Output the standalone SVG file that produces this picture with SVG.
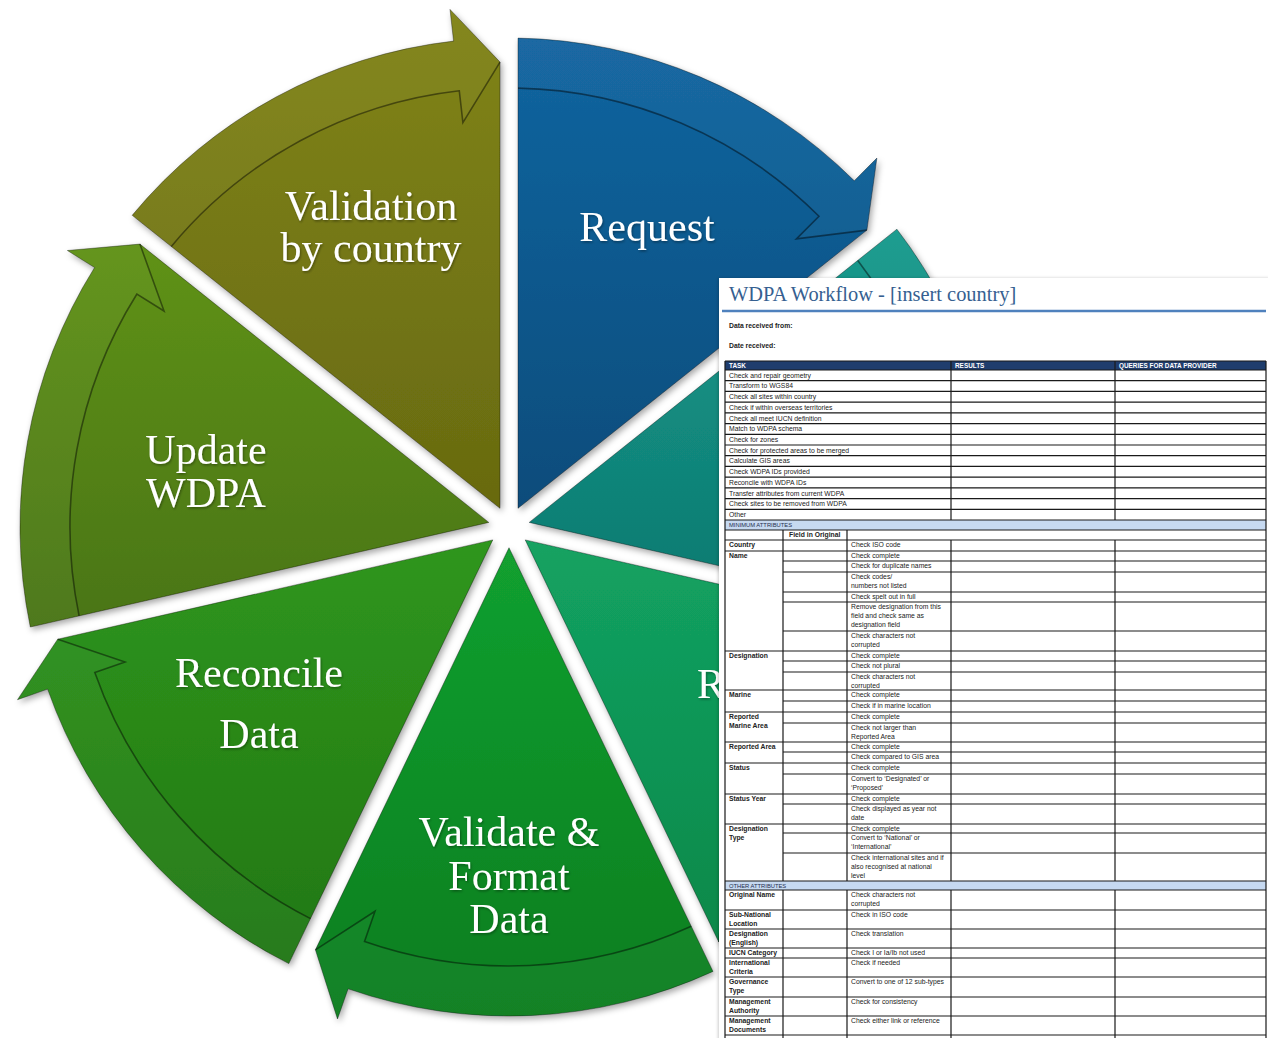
<svg xmlns="http://www.w3.org/2000/svg" width="1268" height="1038" viewBox="0 0 1268 1038">
<defs>
<style>
.body{stroke:rgba(0,0,0,0.35);stroke-width:1;filter:url(#sh)}
.band{fill:rgba(255,255,255,0.03);stroke:none}
.edge{fill:none;stroke:rgba(0,0,0,0.45);stroke-width:1.6}
.lbl{font-family:"Liberation Serif","Times New Roman",serif;font-size:42px;fill:#ffffff;text-anchor:middle;filter:url(#tsh)}
.t{font-family:"Liberation Sans",Arial,sans-serif;font-size:6.8px;fill:#222}
.b{font-weight:bold}
.hd{font-family:"Liberation Sans",Arial,sans-serif;font-size:6.4px;font-weight:bold;fill:#ffffff}
.sc{font-family:"Liberation Sans",Arial,sans-serif;font-size:5.8px;fill:#1f2f4f}
.ln{fill:none;stroke:#1a1a1a;stroke-width:1.2}
</style>
<filter id="sh" x="-10%" y="-10%" width="120%" height="120%">
<feDropShadow dx="2" dy="3" stdDeviation="3" flood-color="#000" flood-opacity="0.35"/>
</filter>
<filter id="tsh" x="-10%" y="-20%" width="120%" height="140%">
<feDropShadow dx="1" dy="1.5" stdDeviation="1" flood-color="#000" flood-opacity="0.35"/>
</filter>
<filter id="dsh" x="-5%" y="-5%" width="110%" height="110%">
<feDropShadow dx="-1" dy="0" stdDeviation="1.5" flood-color="#000" flood-opacity="0.2"/>
</filter>
<linearGradient id="g0" x1="0" y1="0" x2="0" y2="1"><stop offset="0" stop-color="#1265a0"/><stop offset="1" stop-color="#0b4c7b"/></linearGradient>
<linearGradient id="g1" x1="0" y1="0" x2="0" y2="1"><stop offset="0" stop-color="#179a8d"/><stop offset="1" stop-color="#0d786e"/></linearGradient>
<linearGradient id="g2" x1="0" y1="0" x2="0" y2="1"><stop offset="0" stop-color="#13a262"/><stop offset="1" stop-color="#0a8748"/></linearGradient>
<linearGradient id="g3" x1="0" y1="0" x2="0" y2="1"><stop offset="0" stop-color="#12a030"/><stop offset="1" stop-color="#0a7d1f"/></linearGradient>
<linearGradient id="g4" x1="0" y1="0" x2="0" y2="1"><stop offset="0" stop-color="#2f961d"/><stop offset="1" stop-color="#227713"/></linearGradient>
<linearGradient id="g5" x1="0" y1="0" x2="0" y2="1"><stop offset="0" stop-color="#5f9219"/><stop offset="1" stop-color="#4a7512"/></linearGradient>
<linearGradient id="g6" x1="0" y1="0" x2="0" y2="1"><stop offset="0" stop-color="#808418"/><stop offset="1" stop-color="#686a10"/></linearGradient>
</defs>
<rect width="1268" height="1038" fill="#ffffff"/>

<g id="request">
<path class="body" fill="url(#g0)" d="M518.0,508.3 L518.0,38.1 A489,489 0 0 1 854.3,180.8 L876.9,158.1 L866.9,230.1 Z"/>
<path class="band" d="M518.0,38.1 A489,489 0 0 1 854.3,180.8 L876.9,158.1 L866.9,230.1 L796.4,238.9 L819.0,216.2 A439,439 0 0 0 518.0,88.1 Z"/>
<path class="edge" d="M518.0,88.1 A439,439 0 0 1 819.0,216.2 L796.4,238.9 L866.9,230.1"/>
<text class="lbl" x="647" y="241">Request</text>
</g>

<g id="teal">
<path class="body" fill="url(#g1)" d="M529.2,522.4 L896.9,229.2 A489,489 0 0 1 995.0,581.1 L1026.8,584.7 L964.3,621.7 Z"/>
<path class="band" d="M896.9,229.2 A489,489 0 0 1 995.0,581.1 L1026.8,584.7 L964.3,621.7 L913.5,572.1 L945.3,575.6 A439,439 0 0 0 857.8,260.4 Z"/>
<path class="edge" d="M857.8,260.4 A439,439 0 0 1 945.3,575.6 L913.5,572.1 L964.3,621.7"/>
</g>

<g id="r-step">
<path class="body" fill="url(#g2)" d="M525.2,539.9 L983.7,644.6 A489,489 0 0 1 769.7,940.7 L786.7,967.8 L718.8,942.0 Z"/>
<path class="band" d="M983.7,644.6 A489,489 0 0 1 769.7,940.7 L786.7,967.8 L718.8,942.0 L726.0,871.4 L743.0,898.4 A439,439 0 0 0 934.9,633.4 Z"/>
<path class="edge" d="M934.9,633.4 A439,439 0 0 1 743.0,898.4 L726.0,871.4 L718.8,942.0"/>
<text class="lbl" x="697" y="698" style="text-anchor:start">R</text>
</g>

<g id="validate-format">
<path class="body" fill="url(#g3)" d="M509,547.7 L713.0,971.4 A489,489 0 0 1 348.1,988.8 L337.5,1019.0 L315.4,949.8 Z"/>
<path class="band" d="M713.0,971.4 A489,489 0 0 1 348.1,988.8 L337.5,1019.0 L315.4,949.8 L375.0,911.3 L364.5,941.5 A439,439 0 0 0 691.3,926.3 Z"/>
<path class="edge" d="M691.3,926.3 A439,439 0 0 1 364.5,941.5 L375.0,911.3 L315.4,949.8"/>
<text class="lbl" x="509" y="846">Validate &amp;</text>
<text class="lbl" x="509" y="890">Format</text>
<text class="lbl" x="509" y="933">Data</text>
</g>

<g id="reconcile">
<path class="body" fill="url(#g4)" d="M492.8,539.9 L288.8,963.6 A489,489 0 0 1 47.6,689.1 L17.5,699.7 L57.7,639.2 Z"/>
<path class="band" d="M288.8,963.6 A489,489 0 0 1 47.6,689.1 L17.5,699.7 L57.7,639.2 L125.0,661.9 L94.8,672.5 A439,439 0 0 0 310.5,918.6 Z"/>
<path class="edge" d="M310.5,918.6 A439,439 0 0 1 94.8,672.5 L125.0,661.9 L57.7,639.2"/>
<text class="lbl" x="259" y="687">Reconcile</text>
<text class="lbl" x="259" y="748">Data</text>
</g>

<g id="update">
<path class="body" fill="url(#g5)" d="M488.8,522.4 L30.3,627.0 A489,489 0 0 1 94.6,267.5 L67.4,250.5 L139.9,244.1 Z"/>
<path class="band" d="M30.3,627.0 A489,489 0 0 1 94.6,267.5 L67.4,250.5 L139.9,244.1 L164.0,311.0 L136.9,294.0 A439,439 0 0 0 79.1,615.9 Z"/>
<path class="edge" d="M79.1,615.9 A439,439 0 0 1 136.9,294.0 L164.0,311.0 L139.9,244.1"/>
<text class="lbl" x="206" y="464">Update</text>
<text class="lbl" x="206" y="507">WDPA</text>
</g>

<g id="validation">
<path class="body" fill="url(#g6)" d="M500.0,508.3 L132.2,215.3 A489,489 0 0 1 453.6,41.1 L450.0,9.4 L500.0,62.1 Z"/>
<path class="band" d="M132.2,215.3 A489,489 0 0 1 453.6,41.1 L450.0,9.4 L500.0,62.1 L462.9,122.6 L459.3,90.8 A439,439 0 0 0 171.3,246.4 Z"/>
<path class="edge" d="M171.3,246.4 A439,439 0 0 1 459.3,90.8 L462.9,122.6 L500.0,62.1"/>
<text class="lbl" x="371" y="220">Validation</text>
<text class="lbl" x="371" y="262">by country</text>
</g>

<g id="workflow-table">
<rect x="719" y="278" width="552" height="764" fill="#ffffff" filter="url(#dsh)"/>
<text x="729" y="301" style="font-family:'Liberation Serif','Times New Roman',serif;font-size:20.4px;fill:#365f91">WDPA Workflow - [insert country]</text>
<line x1="722" y1="311" x2="1266" y2="311" stroke="#4f81bd" stroke-width="2.6"/>
<text class="t b" x="729" y="328">Data received from:</text>
<text class="t b" x="729" y="348">Date received:</text>
<rect x="725" y="361" width="541" height="9" fill="#1f3d6d"/>
<rect x="725" y="520" width="541" height="10" fill="#c6d9f1"/>
<rect x="725" y="881" width="541" height="9" fill="#c6d9f1"/>
<path class="ln" d="M725,361H1266 M725,370H1266 M725,380.7H1266 M725,391.4H1266 M725,402.1H1266 M725,412.9H1266 M725,423.6H1266 M725,434.3H1266 M725,445H1266 M725,455.7H1266 M725,466.4H1266 M725,477.1H1266 M725,487.9H1266 M725,498.6H1266 M725,509.3H1266 M725,520H1266 M725,530H1266 M725,540H1266 M725,551H1266 M725,651H1266 M725,690H1266 M725,712H1266 M725,742H1266 M725,763H1266 M725,794H1266 M725,824H1266 M725,881H1266 M725,890H1266 M725,910H1266 M725,929H1266 M725,948H1266 M725,958H1266 M725,977H1266 M725,997H1266 M725,1016H1266 M725,1035H1266 M783,561H1266 M783,572H1266 M783,592H1266 M783,602H1266 M783,631H1266 M783,661H1266 M783,672H1266 M783,701H1266 M783,723H1266 M783,752H1266 M783,774H1266 M783,804H1266 M783,833H1266 M783,853H1266 M725,361V1038 M1266,361V1038 M951,361V520 M1115,361V520 M783,530V540 M847,530V540 M783,540V881 M847,540V881 M951,540V881 M1115,540V881 M783,890V1038 M847,890V1038 M951,890V1038 M1115,890V1038"/>
<text class="hd" x="729" y="368">TASK</text>
<text class="hd" x="955" y="368">RESULTS</text>
<text class="hd" x="1119" y="368">QUERIES FOR DATA PROVIDER</text>
<text class="t" x="729" y="377.6">Check and repair geometry</text>
<text class="t" x="729" y="388.3">Transform to WGS84</text>
<text class="t" x="729" y="399.0">Check all sites within country</text>
<text class="t" x="729" y="409.7">Check if within overseas territories</text>
<text class="t" x="729" y="420.5">Check all meet IUCN definition</text>
<text class="t" x="729" y="431.2">Match to WDPA schema</text>
<text class="t" x="729" y="441.9">Check for zones</text>
<text class="t" x="729" y="452.6">Check for protected areas to be merged</text>
<text class="t" x="729" y="463.3">Calculate GIS areas</text>
<text class="t" x="729" y="474.0">Check WDPA IDs provided</text>
<text class="t" x="729" y="484.7">Reconcile with WDPA IDs</text>
<text class="t" x="729" y="495.5">Transfer attributes from current WDPA</text>
<text class="t" x="729" y="506.2">Check sites to be removed from WDPA</text>
<text class="t" x="729" y="516.9">Other</text>
<text class="sc" x="729" y="527.4">MINIMUM ATTRIBUTES</text>
<text class="t b" x="789" y="537.4">Field in Original</text>
<text class="t b" x="729" y="547.3">Country</text>
<text class="t" x="851" y="547.3">Check ISO code</text>
<text class="t b" x="729" y="558.3">Name</text>
<text class="t" x="851" y="558.3">Check complete</text>
<text class="t" x="851" y="568.3">Check for duplicate names</text>
<text class="t" x="851" y="579.3">Check codes/</text>
<text class="t" x="851" y="588.2">numbers not listed</text>
<text class="t" x="851" y="599.3">Check spelt out in full</text>
<text class="t" x="851" y="609.3">Remove designation from this</text>
<text class="t" x="851" y="618.2">field and check same as</text>
<text class="t" x="851" y="627.1">designation field</text>
<text class="t" x="851" y="638.3">Check characters not</text>
<text class="t" x="851" y="647.2">corrupted</text>
<text class="t b" x="729" y="658.3">Designation</text>
<text class="t" x="851" y="658.3">Check complete</text>
<text class="t" x="851" y="668.3">Check not plural</text>
<text class="t" x="851" y="679.3">Check characters not</text>
<text class="t" x="851" y="687.8">corrupted</text>
<text class="t b" x="729" y="697.3">Marine</text>
<text class="t" x="851" y="697.3">Check complete</text>
<text class="t" x="851" y="708.3">Check if in marine location</text>
<text class="t b" x="729" y="719.3">Reported</text>
<text class="t b" x="729" y="728.2">Marine Area</text>
<text class="t" x="851" y="719.3">Check complete</text>
<text class="t" x="851" y="730.3">Check not larger than</text>
<text class="t" x="851" y="739.2">Reported Area</text>
<text class="t b" x="729" y="749.3">Reported Area</text>
<text class="t" x="851" y="749.3">Check complete</text>
<text class="t" x="851" y="759.3">Check compared to GIS area</text>
<text class="t b" x="729" y="770.3">Status</text>
<text class="t" x="851" y="770.3">Check complete</text>
<text class="t" x="851" y="781.3">Convert to ‘Designated’ or</text>
<text class="t" x="851" y="790.2">‘Proposed’</text>
<text class="t b" x="729" y="801.3">Status Year</text>
<text class="t" x="851" y="801.3">Check complete</text>
<text class="t" x="851" y="811.3">Check displayed as year not</text>
<text class="t" x="851" y="820.2">date</text>
<text class="t b" x="729" y="831.3">Designation</text>
<text class="t b" x="729" y="840.2">Type</text>
<text class="t" x="851" y="831.3">Check complete</text>
<text class="t" x="851" y="840.3">Convert to ‘National’ or</text>
<text class="t" x="851" y="849.2">‘International’</text>
<text class="t" x="851" y="860.3">Check international sites and if</text>
<text class="t" x="851" y="869.2">also recognised at national</text>
<text class="t" x="851" y="878.1">level</text>
<text class="sc" x="729" y="887.7">OTHER ATTRIBUTES</text>
<text class="t b" x="729" y="897.3">Original Name</text>
<text class="t" x="851" y="897.3">Check characters not</text>
<text class="t" x="851" y="906.2">corrupted</text>
<text class="t b" x="729" y="917.3">Sub-National</text>
<text class="t b" x="729" y="926.2">Location</text>
<text class="t" x="851" y="917.3">Check in ISO code</text>
<text class="t b" x="729" y="936.3">Designation</text>
<text class="t b" x="729" y="945.2">(English)</text>
<text class="t" x="851" y="936.3">Check translation</text>
<text class="t b" x="729" y="955.3">IUCN Category</text>
<text class="t" x="851" y="955.3">Check I or Ia/Ib not used</text>
<text class="t b" x="729" y="965.3">International</text>
<text class="t b" x="729" y="974.2">Criteria</text>
<text class="t" x="851" y="965.3">Check if needed</text>
<text class="t b" x="729" y="984.3">Governance</text>
<text class="t b" x="729" y="993.2">Type</text>
<text class="t" x="851" y="984.3">Convert to one of 12 sub-types</text>
<text class="t b" x="729" y="1004.3">Management</text>
<text class="t b" x="729" y="1013.2">Authority</text>
<text class="t" x="851" y="1004.3">Check for consistency</text>
<text class="t b" x="729" y="1023.3">Management</text>
<text class="t b" x="729" y="1032.2">Documents</text>
<text class="t" x="851" y="1023.3">Check either link or reference</text>
</g>
</svg>
